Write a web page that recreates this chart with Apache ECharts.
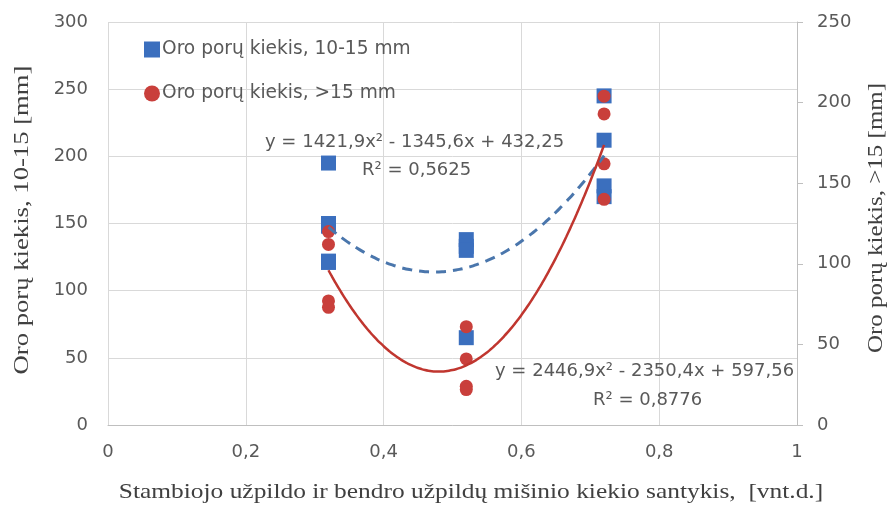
<!DOCTYPE html>
<html>
<head>
<meta charset="utf-8">
<script src="https://cdn.jsdelivr.net/npm/echarts@6/dist/echarts.min.js"></script>
<style>
  html, body { margin: 0; padding: 0; background: #ffffff; }
  #chart { width: 895px; height: 507px; }
</style>
</head>
<body>
<div id="chart"></div>
<script>
// Aggregate ratio (x) for each mix group
const ratios = [0.32, 0.52, 0.72];
// Air pore counts, 10-15 mm (left axis), one list per ratio
const pores1015 = [[195, 150, 148, 121, 122], [138, 133, 130, 65], [245, 212, 178, 170]];
// Air pore counts, >15 mm (right axis), one list per ratio
const poresOver15 = [[120, 112, 77, 73], [61, 41, 24, 22], [204, 193, 162, 140]];
// Polynomial trend coefficients [a, b, c] for y = a*x^2 + b*x + c
const trend1015 = [1421.9, -1345.6, 432.25];
const trendOver15 = [2446.9, -2350.4, 597.56];
const trendRange = [0.32, 0.72];
// Labels
const seriesNames = ['Oro porų kiekis, 10-15 mm', 'Oro porų kiekis, >15 mm'];
const eq1015 = ['y = 1421,9x² - 1345,6x + 432,25', 'R² = 0,5625'];
const eqOver15 = ['y = 2446,9x² - 2350,4x + 597,56', 'R² = 0,8776'];
const xTitle = 'Stambiojo užpildo ir bendro užpildų mišinio kiekio santykis,  [vnt.d.]';
const yLeftTitle = 'Oro porų kiekis, 10-15 [mm]';
const yRightTitle = 'Oro porų kiekis, >15 [mm]';

function toPoints(groups) {
  const pts = [];
  groups.forEach((vals, i) => vals.forEach(v => pts.push([ratios[i], v])));
  return pts;
}
function curve(coef) {
  const pts = [];
  const steps = 80;
  for (let k = 0; k <= steps; k++) {
    const x = trendRange[0] + (trendRange[1] - trendRange[0]) * k / steps;
    pts.push([x, coef[0] * x * x + coef[1] * x + coef[2]]);
  }
  return pts;
}

const BLUE = '#3b6fbe';
const RED = '#c93f3b';
const labelColor = '#595959';
const gridColor = '#d9d9d9';
const tickFont = { color: labelColor, fontSize: 18, fontFamily: 'DejaVu Sans' };
const titleStyle = { fill: '#404040', fontSize: 21, fontFamily: 'Liberation Serif', align: 'center', verticalAlign: 'middle' };
const eqFont = { fill: labelColor, fontSize: 18, fontFamily: 'DejaVu Sans' };

const chart = echarts.init(document.getElementById('chart'), null, { renderer: 'canvas' });
chart.setOption({
  backgroundColor: '#ffffff',
  animation: false,
  grid: { left: 108, right: 98, top: 22, bottom: 82 },
  legend: {
    orient: 'vertical',
    left: 139, top: 35,
    itemWidth: 16, itemHeight: 16, itemGap: 25,
    textStyle: { color: labelColor, fontSize: 18.6, fontFamily: 'DejaVu Sans', padding: [0, 0, 0, -3] },
    data: [
      { name: seriesNames[0], icon: 'rect' },
      { name: seriesNames[1], icon: 'circle' }
    ]
  },
  xAxis: {
    type: 'value', min: 0, max: 1, interval: 0.2,
    axisLine: { show: true, lineStyle: { color: '#bfbfbf', width: 1 } },
    axisTick: { show: false },
    splitLine: { show: true, lineStyle: { color: gridColor, width: 1 } },
    axisLabel: Object.assign({ margin: 18, formatter: v => String(+v.toFixed(1)).replace('.', ',') }, tickFont)
  },
  yAxis: [
    {
      type: 'value', min: 0, max: 300, interval: 50,
      axisLine: { show: false }, axisTick: { show: false },
      splitLine: { show: true, lineStyle: { color: gridColor, width: 1 } },
      axisLabel: Object.assign({ margin: 20 }, tickFont)
    },
    {
      type: 'value', min: 0, max: 250, interval: 50, position: 'right',
      axisLine: { show: true, lineStyle: { color: '#bfbfbf', width: 1 } },
      axisTick: { show: true, length: 6, lineStyle: { color: '#bfbfbf' } },
      splitLine: { show: false },
      axisLabel: Object.assign({ margin: 20 }, tickFont)
    }
  ],
  series: [
    {
      name: seriesNames[0], type: 'scatter', yAxisIndex: 0,
      symbol: 'rect', symbolSize: 15, z: 3,
      itemStyle: { color: BLUE, opacity: 1 },
      data: toPoints(pores1015)
    },
    {
      name: seriesNames[1], type: 'scatter', yAxisIndex: 1,
      symbol: 'circle', symbolSize: 13, z: 4,
      itemStyle: { color: RED, opacity: 1 },
      data: toPoints(poresOver15)
    },
    {
      name: 'trend1015', type: 'line', yAxisIndex: 0, showSymbol: false, smooth: true,
      z: 5, silent: true,
      lineStyle: { color: '#4a76ac', width: 3, type: [10, 7] },
      data: curve(trend1015)
    },
    {
      name: 'trendOver15', type: 'line', yAxisIndex: 1, showSymbol: false, smooth: true,
      z: 6, silent: true,
      lineStyle: { color: '#c0362f', width: 2.5 },
      data: curve(trendOver15)
    }
  ],
  graphic: [
    // trend equations
    { type: 'text', left: 265, top: 133, z: 10, style: Object.assign({ text: eq1015[0] }, eqFont) },
    { type: 'text', left: 362, top: 161, z: 10, style: Object.assign({ text: eq1015[1] }, eqFont) },
    { type: 'text', left: 495, top: 362, z: 10, style: Object.assign({ text: eqOver15[0] }, eqFont) },
    { type: 'text', left: 593, top: 391, z: 10, style: Object.assign({ text: eqOver15[1] }, eqFont) },
    // axis titles
    { type: 'text', x: 471, y: 492, scaleX: 1.21, z: 10, style: Object.assign({ text: xTitle }, titleStyle) },
    { type: 'text', x: 22, y: 220, rotation: Math.PI / 2, scaleX: 1.27, z: 10, style: Object.assign({ text: yLeftTitle }, titleStyle) },
    { type: 'text', x: 876, y: 218, rotation: Math.PI / 2, scaleX: 1.19, z: 10, style: Object.assign({ text: yRightTitle }, titleStyle) }
  ]
});
</script>
</body>
</html>
